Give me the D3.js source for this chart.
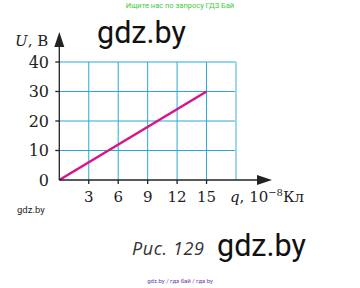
<!DOCTYPE html>
<html><head><meta charset="utf-8">
<script src="https://cdn.jsdelivr.net/npm/d3@7"></script>
<style>body{margin:0;background:#fff}svg{display:block}</style>
</head><body>
<svg id="c" width="360" height="288"></svg>
<script>
const xTicks = [3, 6, 9, 12, 15];
const yTicks = [0, 10, 20, 30, 40];
const xGrid = [3, 6, 9, 12, 15, 18];
const lineQ = [0, 15];
const lineU = [0, 30];

const svg = d3.select("#c");
const x = d3.scaleLinear().domain([0, 18]).range([59.3, 236]);
const y = d3.scaleLinear().domain([0, 40]).range([180, 62]);
const serif = "'DejaVu Serif','Liberation Serif',serif";
const grid = "#2aa7d9";

// grid lines
svg.append("g").selectAll("line").data(yTicks.filter(d => d > 0)).join("line")
  .attr("x1", x(0)).attr("x2", x(18)).attr("y1", d => y(d)).attr("y2", d => y(d))
  .attr("stroke", grid).attr("stroke-width", 1);
svg.append("g").selectAll("line").data(xGrid).join("line")
  .attr("x1", d => x(d)).attr("x2", d => x(d)).attr("y1", y(0)).attr("y2", y(40))
  .attr("stroke", d => d === 18 ? "#9fd8ee" : grid).attr("stroke-width", d => d === 18 ? 2 : 1);

// data line
svg.append("path")
  .datum(lineQ.map((q, i) => [q, lineU[i]]))
  .attr("d", d3.line().x(d => x(d[0])).y(d => y(d[1])))
  .attr("stroke", "#d4168c").attr("stroke-width", 2.6).attr("fill", "none");

// axes
const axCol = "#222";
svg.append("line").attr("x1", x(0)).attr("x2", x(0)).attr("y1", y(0)).attr("y2", 44)
  .attr("stroke", axCol).attr("stroke-width", 1.3);
svg.append("path").attr("d", `M${x(0)},32 L${x(0)-5},47 L${x(0)+5},47 Z`).attr("fill", axCol);
svg.append("line").attr("x1", x(0)).attr("x2", 260).attr("y1", y(0)).attr("y2", y(0))
  .attr("stroke", axCol).attr("stroke-width", 1.3);
svg.append("path").attr("d", `M272,${y(0)} L257,${y(0)-5} L257,${y(0)+5} Z`).attr("fill", axCol);

// ticks
svg.append("g").selectAll("line").data(yTicks.filter(d => d > 0)).join("line")
  .attr("x1", x(0) - 4).attr("x2", x(0)).attr("y1", d => y(d)).attr("y2", d => y(d))
  .attr("stroke", axCol).attr("stroke-width", 1.3);
svg.append("g").selectAll("line").data(xTicks).join("line")
  .attr("x1", d => x(d)).attr("x2", d => x(d)).attr("y1", y(0)).attr("y2", y(0) + 4)
  .attr("stroke", axCol).attr("stroke-width", 1.3);

// tick labels
svg.append("g").selectAll("text").data(yTicks).join("text")
  .attr("x", 49).attr("y", d => y(d) + 5.5).attr("text-anchor", "end")
  .attr("font-family", serif).attr("font-size", 16).attr("fill", "#222").text(d => d);
svg.append("g").selectAll("text").data(xTicks).join("text")
  .attr("x", d => x(d)).attr("y", 201.5).attr("text-anchor", "middle")
  .attr("font-family", serif).attr("font-size", 15).attr("fill", "#222").text(d => d);

// axis titles
const ut = svg.append("text").attr("x", 15).attr("y", 46).attr("font-family", serif)
  .attr("font-size", 15).attr("fill", "#222");
ut.append("tspan").attr("font-style", "italic").text("U");
ut.append("tspan").text(", В");
const qt = svg.append("text").attr("x", 230).attr("y", 201.5).attr("font-family", serif)
  .attr("font-size", 15).attr("fill", "#222");
qt.append("tspan").attr("font-style", "italic").text("q");
qt.append("tspan").text(", 10");
qt.append("tspan").attr("font-size", 10).attr("dy", -6).text("−8");
qt.append("tspan").attr("dy", 6).text("Кл");

// watermarks & caption
svg.append("text").attr("x", 180).attr("y", 8).attr("text-anchor", "middle")
  .attr("font-family", "Roboto, sans-serif").attr("font-size", 7.5).attr("fill", "#3dcc3d")
  .text("Ищите нас по запросу ГДЗ Бай");
svg.append("text").attr("x", 97).attr("y", 43).attr("font-family", "Roboto, sans-serif")
  .attr("font-size", 30.5).attr("fill", "#111").text("gdz.by");
svg.append("text").attr("x", 17).attr("y", 213).attr("font-family", "Roboto, sans-serif")
  .attr("font-size", 9.5).attr("fill", "#222").text("gdz.by");
svg.append("text").attr("x", 132).attr("y", 255).attr("font-family", "'Open Sans', sans-serif")
  .attr("font-style", "italic").attr("font-size", 18).attr("letter-spacing", 0.6).attr("fill", "#333").text("Рис. 129");
svg.append("text").attr("x", 217).attr("y", 256).attr("font-family", "Roboto, sans-serif")
  .attr("font-size", 30.5).attr("fill", "#111").text("gdz.by");
svg.append("text").attr("x", 180).attr("y", 283).attr("text-anchor", "middle")
  .attr("font-family", "Roboto, sans-serif").attr("font-size", 6).attr("fill", "#6a3aa6")
  .text("gdz.by / гдз бай / гдз by");
</script>
</body></html>
